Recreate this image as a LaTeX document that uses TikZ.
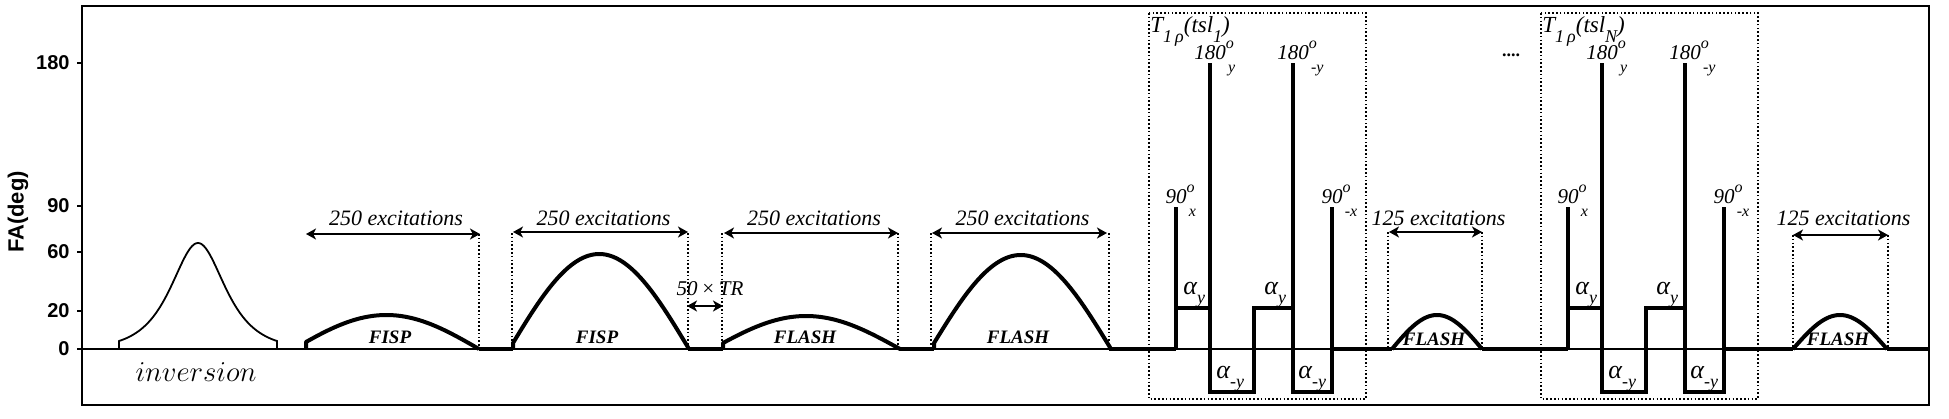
\documentclass[tikz,border=0pt]{standalone}
\usepackage{fontspec}
\setmainfont{Liberation Serif}
\newfontfamily\axisfont{Liberation Sans}
\usetikzlibrary{arrows.meta}
\newcommand\lobe[4]{%
  \draw[pulse] (#1,349) -- plot[domain=#1:#2,samples=80,smooth] (\x,{349-#3*sin(180*(#4+(1-#4)*(\x-#1)/(#2-#1)))});}
\newcommand\smallsz{\fontsize{8}{9}\selectfont}
\newcommand\subsz{\fontsize{9}{10}\selectfont}
\newcommand\pulselab[2]{#1\rlap{\raisebox{0.5em}{\smallsz o}}\rlap{\raisebox{-0.65em}{\smallsz\hspace{0.15em}#2}}}
\newcommand\alab[1]{{\fontsize{13}{14}\selectfont α}\raisebox{-0.45em}{\subsz #1}}
\begin{document}
\begin{tikzpicture}[x=0.5pt,y=-0.5pt,
  frame/.style={line width=1.2pt},
  base/.style={line width=1pt},
  basethick/.style={line width=2pt},
  pulse/.style={line width=2pt,line join=round},
  tp/.style={line width=2.4pt,line join=miter},
  inv/.style={line width=0.9pt},
  dotl/.style={line width=0.8pt,dash pattern=on 0.8pt off 1.1pt},
  spanarr/.style={line width=0.8pt,{Stealth[length=5pt,width=5.5pt,inset=1.4pt]}-{Stealth[length=5pt,width=5.5pt,inset=1.4pt]}},
  lbl/.style={inner sep=0pt,font=\fontsize{10.5}{12}\selectfont\itshape},
  tlbl/.style={inner sep=0pt,font=\fontsize{11.5}{13}\selectfont\itshape},
  exlbl/.style={inner sep=0pt,font=\fontsize{11}{13}\selectfont\itshape},
  seqlbl/.style={inner sep=0pt,font=\fontsize{9.5}{11}\selectfont\bfseries\itshape},
  ticklbl/.style={inner sep=0pt,anchor=east,font=\fontsize{10}{11}\selectfont\axisfont\bfseries}]
\useasboundingbox (0,0) rectangle (1949,418);
% frame
\draw[frame] (82,6) rectangle (1929,405);
% axis ticks and labels
\foreach \v/\yy in {180/63,90/206,60/252,20/311,0/349}{
  \draw[line width=0.8pt] (77,\yy) -- (82,\yy);
  \node[ticklbl] (t\v) at (70,\yy) {\v};
}
\node[inner sep=0pt,rotate=90,font=\fontsize{11}{12}\selectfont\axisfont\bfseries] (ylab) at (18,212) {FA(deg)};
% baseline
\draw[base] (82,349) -- (1929,349);
\foreach \a/\b in {479/513,688/723,899/934,1109/1176,1332/1392,1482/1568,1724/1793,1887/1929}{
  \draw[basethick] (\a,349) -- (\b,349);
}
% inversion pulse
\draw[inv] (119,349) -- (119,{349-106*2/(exp(0.0415*79)+exp(-0.0415*79))})
  -- plot[domain=119:277,samples=120,smooth] (\x,{349-106*2/(exp(0.0415*(\x-198))+exp(-0.0415*(\x-198)))})
  -- (277,349);
\node[inner sep=0pt,font=\fontsize{14}{16}\selectfont] (invl) at (196,372) {$inversion$};
% readout lobes
\lobe{306}{479}{34}{0.066}
\lobe{513}{689}{95}{0.02}
\lobe{723}{900}{33}{0.058}
\lobe{934}{1111}{94}{0.02}
\lobe{1392}{1482}{34}{0.0}
\lobe{1793}{1887}{34}{0.0}
% dotted guides
\foreach \xx/\yy in {479/234,512/233,688/233,722/233,898/233,931/233,1109/233,1388/232,1482/232,1793/235,1888/235}{
  \draw[dotl] (\xx,\yy) -- (\xx,349);
}
% spans
\foreach \n/\a/\b/\yy/\t in {s1/306/480/234/250,s2/513/688/232/250,s3/724/898/233/250,s4/932/1107/233/250,s5/1389/1482/232/125,s6/1793/1888/235/125}{
  \coordinate (\n l) at (\a,\yy);
  \coordinate (\n r) at (\b,\yy);
  \draw[spanarr] (\n l) -- (\n r);
  \node[exlbl,anchor=base] (\n t) at ({(\a+\b)/2+3},225) {\t\ excitations};
}
% sequence labels
\node[seqlbl,anchor=base] (q1) at (390,343) {FISP};
\node[seqlbl,anchor=base] (q2) at (597,343) {FISP};
\node[seqlbl,anchor=base] (q3) at (805,343) {FLASH};
\node[seqlbl,anchor=base] (q4) at (1018,343) {FLASH};
\node[seqlbl,anchor=base] (q5) at (1434,345) {FLASH};
\node[seqlbl,anchor=base] (q6) at (1838,345) {FLASH};
% 50 x TR
\node[lbl,anchor=base] (trl) at (710,295) {50\,×\,TR};
\coordinate (trA) at (687,306);
\coordinate (trB) at (723,306);
\draw[spanarr] (trA) -- (trB);
% dots
\node[inner sep=0pt,font=\fontsize{9}{10}\selectfont\bfseries] (ell) at (1511,55) {....};
% T1rho blocks
\foreach \o/\k/\sub in {0/1/1,392/2/N}{
  \draw[dotl] ({1149+\o},13) rectangle ({1366+\o},399);
  \node[tlbl,anchor=base west] (T\k) at ({1150+\o},32) {T\raisebox{-0.45em}{\subsz 1\,ρ}(tsl\raisebox{-0.45em}{\subsz \sub})};
  \draw[tp] ({1176+\o},349) -- ({1176+\o},207);
  \draw[tp] ({1176+\o},308) -- ({1210+\o},308);
  \draw[tp] ({1210+\o},63) -- ({1210+\o},392) -- ({1254+\o},392) -- ({1254+\o},308) -- ({1293+\o},308);
  \draw[tp] ({1293+\o},63) -- ({1293+\o},392) -- ({1332+\o},392) -- ({1332+\o},207);
  \node[lbl,anchor=base] (p1\k) at ({1176+\o},203) {\pulselab{90}{x}};
  \node[lbl,anchor=base] (p2\k) at ({1210+\o},59) {\pulselab{180}{y}};
  \node[lbl,anchor=base] (p3\k) at ({1293+\o},59) {\pulselab{180}{-y}};
  \node[lbl,anchor=base] (p4\k) at ({1332+\o},203) {\pulselab{90}{-x}};
  \node[lbl,anchor=base west] (a1\k) at ({1183+\o},294) {\alab{y}};
  \node[lbl,anchor=base west] (a2\k) at ({1264+\o},294) {\alab{y}};
  \node[lbl,anchor=base west] (a3\k) at ({1216+\o},378) {\alab{-y}};
  \node[lbl,anchor=base west] (a4\k) at ({1298+\o},378) {\alab{-y}};
}
\end{tikzpicture}
\end{document}
